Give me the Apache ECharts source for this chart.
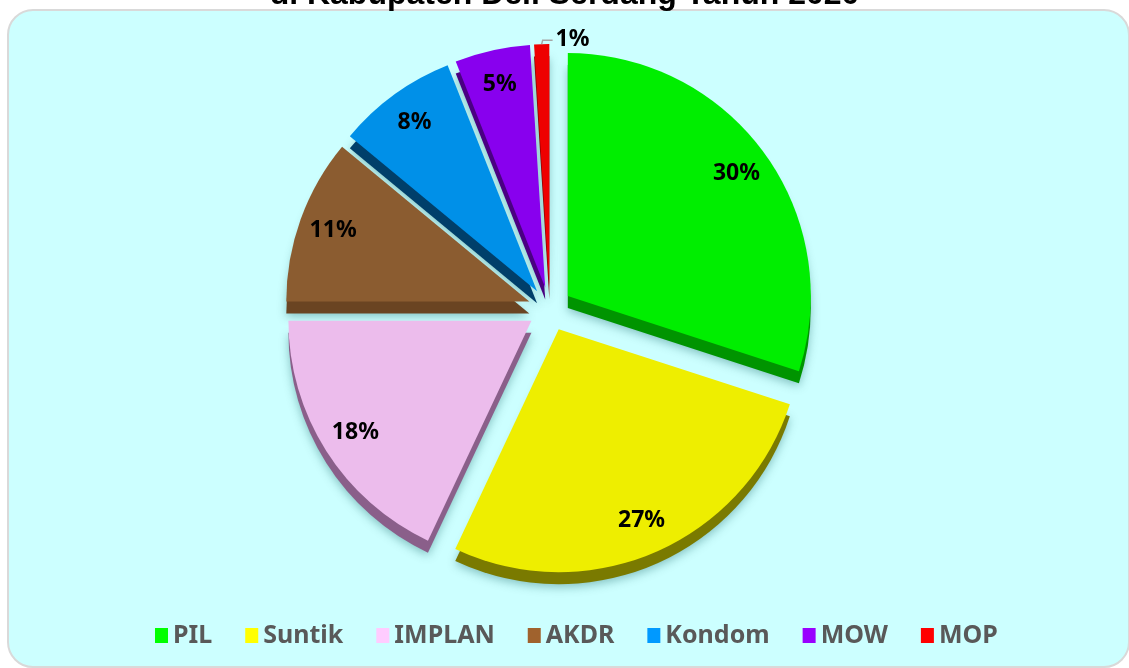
<!DOCTYPE html>
<html lang="id">
<head>
    <meta charset="UTF-8">
    <title>Peserta KB Aktif</title>
    <style>
        *{ padding: 0; margin: 0; }
        body{ background: #fff; }
        .EC{ width: 1129px; height: 668px; }
    </style>
</head>
<body>
<div class="EC"></div>
<script src="https://cdn.jsdelivr.net/npm/echarts@6/dist/echarts.min.js"></script>
<script>
    // data
    const metode = ['PIL', 'Suntik', 'IMPLAN', 'AKDR', 'Kondom', 'MOW', 'MOP']
    const persen = [30, 27, 18, 11, 8, 5, 1]
    const warnaLegend = ['#00ff00', '#ffff00', '#ffccff', '#a0622d', '#0099ff', '#9900ff', '#ff0000']
    const warnaAtas = ['#00ee00', '#eeee00', '#ecbcec', '#8b5c30', '#0090e8', '#8800ee', '#ee0000']
    const warnaSisi = ['#009400', '#7a7a00', '#8a5f8a', '#6a4422', '#003f6a', '#4a0082', '#8a0000']

    const titleText = 'di Kabupaten Deli Serdang Tahun 2020'

    window.onload = () => {
        let EC = echarts.init(document.querySelector('.EC'))
        const cx = 550, cy = 309, R = 243, OFF = 22

        const mk = (colors) => metode.map((m, i) => ({
            name: m,
            value: persen[i],
            selected: true,
            itemStyle: { color: colors ? colors[i] : 'transparent' }
        }))

        // label ring data
        let labelData = mk(null)
        labelData[6].label = { position: 'outside' }
        labelData[6].labelLine = {
            show: true,
            length: 5,
            length2: 8,
            lineStyle: { color: '#a6a6a6', width: 1.5 }
        }

        // label 1% digeser ke kanan, garisnya ikut
        const geserLabel = p => {
            if (p.dataIndex !== 6) return {}
            const dx = 61
            const a = p.labelLinePoints[0]
            const xs = p.labelRect.x + dx - 3
            return {
                dx: dx,
                dy: 0,
                labelLinePoints: [a, [a[0] + 1, a[1] - 4], [xs, a[1] - 4]]
            }
        }

        let option = {
            backgroundColor: '#fff',
            animation: false,
            title: {
                text: titleText,
                left: 'center',
                top: -26,
                textStyle: {
                    fontFamily: 'Liberation Sans',
                    fontSize: 32,
                    fontWeight: 'bold',
                    color: '#000'
                }
            },
            graphic: [{
                type: 'rect',
                z: -10,
                shape: { x: 8, y: 10, width: 1121, height: 657, r: 25 },
                style: { fill: '#ccffff', stroke: '#d9d9d9', lineWidth: 2 }
            }],
            legend: {
                bottom: 15,
                left: 150,
                itemWidth: 13,
                itemHeight: 15,
                itemGap: 33,
                icon: 'rect',
                textStyle: {
                    fontFamily: 'Noto Sans',
                    fontSize: 25,
                    fontWeight: 'bold',
                    color: '#595959'
                },
                data: metode.map((m, i) => ({ name: m, itemStyle: { color: warnaLegend[i] } }))
            },
            series: [{
                // permukaan atas
                name: 'atas',
                type: 'pie',
                z: 3,
                center: [cx, cy],
                radius: [0, R],
                startAngle: 90,
                selectedMode: 'multiple',
                selectedOffset: OFF,
                silent: true,
                label: { show: false },
                labelLine: { show: false },
                itemStyle: { borderWidth: 0 },
                data: mk(warnaAtas)
            }, {
                // sisi tebal 3D
                name: 'sisi',
                type: 'pie',
                z: 2,
                center: [cx, cy + 12],
                radius: [0, R],
                startAngle: 90,
                selectedMode: 'multiple',
                selectedOffset: OFF,
                silent: true,
                label: { show: false },
                labelLine: { show: false },
                itemStyle: {
                    borderWidth: 0,
                    shadowBlur: 10,
                    shadowColor: 'rgba(0,80,80,0.35)',
                    shadowOffsetY: 3
                },
                data: mk(warnaSisi)
            }, {
                // label
                name: 'label',
                type: 'pie',
                z: 4,
                center: [cx, cy],
                radius: [168, R],
                startAngle: 90,
                selectedMode: 'multiple',
                selectedOffset: OFF,
                silent: true,
                label: {
                    show: true,
                    position: 'inside',
                    formatter: p => p.value + '%',
                    fontFamily: 'Noto Sans',
                    fontSize: 23,
                    fontWeight: 'bold',
                    color: '#000'
                },
                labelLine: { show: false },
                labelLayout: geserLabel,
                itemStyle: { borderWidth: 0 },
                data: labelData
            }]
        }
        EC.setOption(option)
    }
</script>
</body>
</html>
